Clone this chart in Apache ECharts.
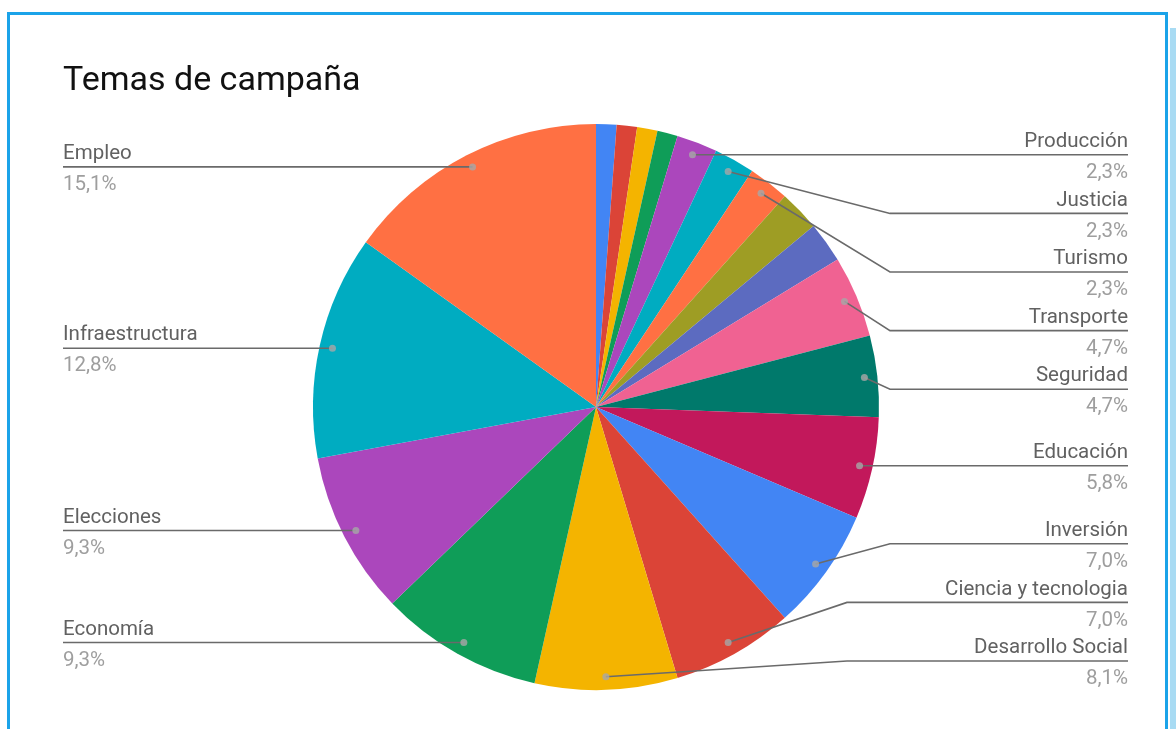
<!DOCTYPE html>
<html>
<head>
<meta charset="utf-8">
<title>Temas de campaña</title>
<script src="https://cdn.jsdelivr.net/npm/echarts@6/dist/echarts.min.js"></script>
<style>
  html, body { margin: 0; padding: 0; background: #ffffff; overflow: hidden; }
  #marco {
    position: absolute; left: 7px; top: 12px;
    width: 1155px; height: 760px;
    border: 3px solid #1ba3e9; box-sizing: content-box;
  }
  #franja {
    position: absolute; left: 1170px; top: 28px;
    width: 6px; height: 701px; background: #a8dbf3;
  }
  #grafico { position: absolute; left: 0; top: 0; width: 1176px; height: 729px; }
</style>
</head>
<body>
<div id="marco"></div>
<div id="franja"></div>
<div id="grafico"></div>
<script>
// Temas en el orden en que aparecen, en sentido horario desde las 12
const temas = [
  'Salud', 'Vivienda', 'Cultura', 'Deporte',
  'Producción', 'Justicia', 'Turismo', 'Ambiente', 'Agro',
  'Transporte', 'Seguridad', 'Educación', 'Inversión',
  'Ciencia y tecnologia', 'Desarrollo Social', 'Economía',
  'Elecciones', 'Infraestructura', 'Empleo'
];
// Cantidad de menciones de cada tema
const menciones = [1, 1, 1, 1, 2, 2, 2, 2, 2, 4, 4, 5, 6, 6, 7, 8, 8, 11, 13];
// Qué porciones llevan etiqueta
const conEtiqueta = [
  false, false, false, false,
  true, true, true, false, false,
  true, true, true, true,
  true, true, true,
  true, true, true
];
const colores = [
  '#4285F4', '#DB4437', '#F4B400', '#0F9D58', '#AB47BC', '#00ACC1',
  '#FF7043', '#9E9D24', '#5C6BC0', '#F06292', '#00796B', '#C2185B',
  '#4285F4', '#DB4437', '#F4B400', '#0F9D58', '#AB47BC', '#00ACC1', '#FF7043'
];

// Geometría
const CX = 596, CY = 407, R = 283, R_ANCLA = 270;
const TEXTO_IZQ = 63, TEXTO_DER = 1128;
const CODO_DER = 890, CODO_DER_BAJO = 847;
const Y_MAX_ETIQUETA = 661, PASO = 58.6;
const FUENTE = 'Roboto, "Noto Sans", Arial, sans-serif';

const total = menciones.reduce((a, b) => a + b, 0);
let acumulado = 0;
const centroPorcion = menciones.map(v => { const m = acumulado + v / 2; acumulado += v; return m; });

function ancla(i) {
  const a = centroPorcion[i] / total * 2 * Math.PI;
  return [CX + R_ANCLA * Math.sin(a), CY - R_ANCLA * Math.cos(a)];
}
function porcentaje(v) {
  return (v / total * 100).toFixed(1).replace('.', ',') + '%';
}

// Altura de la línea de cada etiqueta, apilando sin solaparse
const lineaY = {};
const ladoDer = [], ladoIzq = [];
temas.forEach((t, i) => {
  if (!conEtiqueta[i]) return;
  (ancla(i)[0] >= CX ? ladoDer : ladoIzq).push(i);
});
function apilar(lista) {
  lista.sort((a, b) => ancla(a)[1] - ancla(b)[1]);
  const ys = lista.map(i => ancla(i)[1]);
  for (let k = 1; k < ys.length; k++) ys[k] = Math.max(ys[k], ys[k - 1] + PASO);
  if (ys.length) ys[ys.length - 1] = Math.min(ys[ys.length - 1], Y_MAX_ETIQUETA);
  for (let k = ys.length - 2; k >= 0; k--) ys[k] = Math.min(ys[k], ys[k + 1] - PASO);
  lista.forEach((i, k) => { lineaY[i] = ys[k]; });
}
apilar(ladoDer);
apilar(ladoIzq);

// Porciones de color
const porciones = temas.map((t, i) => ({
  name: t,
  value: menciones[i],
  itemStyle: { color: colores[i] }
}));
// Misma torta, transparente, solo para etiquetas y líneas guía por encima
const etiquetas = temas.map((t, i) => ({
  name: t,
  value: menciones[i],
  label: { show: conEtiqueta[i] },
  labelLine: { show: conEtiqueta[i] }
}));

const anclas = [];
temas.forEach((t, i) => { if (conEtiqueta[i]) anclas.push([R_ANCLA, centroPorcion[i]]); });

const grafico = echarts.init(document.getElementById('grafico'), null, { renderer: 'canvas' });
grafico.setOption({
  backgroundColor: 'transparent',
  animation: false,
  title: {
    text: 'Temas de campaña',
    left: TEXTO_IZQ, top: 64, padding: 0,
    textStyle: { fontFamily: FUENTE, fontSize: 34, fontWeight: 'normal', color: '#111111' }
  },
  polar: { center: [CX, CY], radius: R },
  angleAxis: {
    type: 'value', min: 0, max: total, startAngle: 90, clockwise: true, show: false,
    axisLine: { show: false }, axisTick: { show: false }, axisLabel: { show: false }, splitLine: { show: false }
  },
  radiusAxis: {
    type: 'value', min: 0, max: R, show: false,
    axisLine: { show: false }, axisTick: { show: false }, axisLabel: { show: false }, splitLine: { show: false }
  },
  series: [
    {
      type: 'pie',
      z: 2,
      center: [CX, CY],
      radius: R,
      startAngle: 90,
      clockwise: true,
      silent: true,
      itemStyle: { borderWidth: 0 },
      label: { show: false },
      labelLine: { show: false },
      data: porciones
    },
    {
      type: 'pie',
      z: 3,
      center: [CX, CY],
      radius: R,
      startAngle: 90,
      clockwise: true,
      avoidLabelOverlap: false,
      silent: true,
      itemStyle: { color: 'rgba(0,0,0,0)', borderWidth: 0 },
      label: {
        position: 'outside',
        width: 320,
        overflow: 'none',
        fontFamily: FUENTE,
        formatter: p => '{n|' + p.name + '}\n{p|' + porcentaje(p.value) + '}',
        rich: {
          n: { fontFamily: FUENTE, fontSize: 20.5, color: '#616161', lineHeight: 31 },
          p: { fontFamily: FUENTE, fontSize: 20.5, color: '#9e9e9e', lineHeight: 31 }
        }
      },
      labelLine: {
        show: true, smooth: false,
        lineStyle: { color: '#6a6a6a', width: 1.6 }
      },
      labelLayout: function (params) {
        const i = params.dataIndex;
        if (!conEtiqueta[i]) return {};
        const a = ancla(i);
        const y = lineaY[i];
        if (a[0] >= CX) {
          const codo = y > CY + 180 ? CODO_DER_BAJO : CODO_DER;
          return {
            x: TEXTO_DER, y: y + 2.5, align: 'right', verticalAlign: 'middle',
            labelLinePoints: [a, [codo, y], [TEXTO_DER, y]]
          };
        }
        return {
          x: TEXTO_IZQ, y: y + 2.5, align: 'left', verticalAlign: 'middle',
          labelLinePoints: [a, [a[0], y], [TEXTO_IZQ, y]]
        };
      },
      data: etiquetas
    },
    {
      type: 'scatter',
      coordinateSystem: 'polar',
      silent: true,
      z: 5,
      symbol: 'circle',
      symbolSize: 7,
      itemStyle: { color: '#a8a8a8' },
      data: anclas
    }
  ]
});
</script>
</body>
</html>
